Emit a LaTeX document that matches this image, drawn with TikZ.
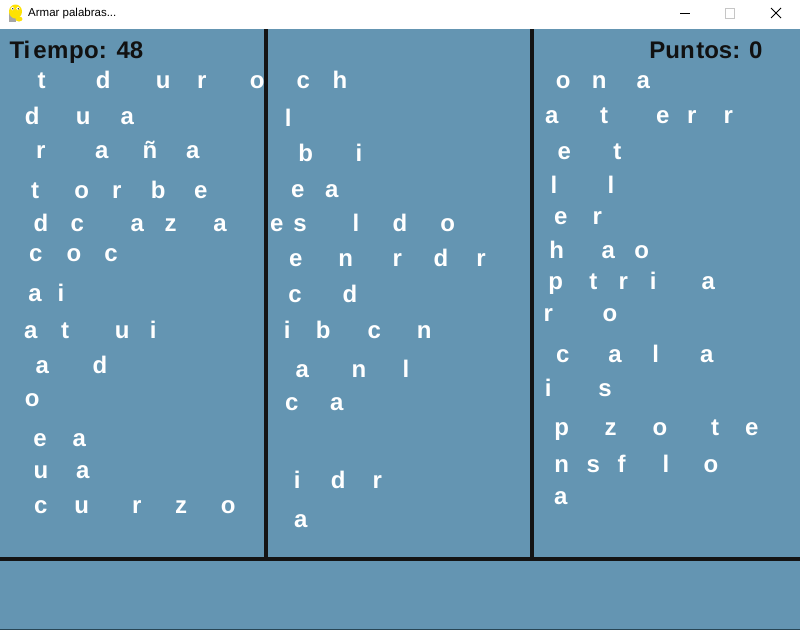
\documentclass[tikz,border=0pt]{standalone}
\usepackage{fontspec}
\setmainfont{Liberation Sans}
\definecolor{bg}{RGB}{100,149,178}
\definecolor{bar}{RGB}{20,20,20}
\definecolor{ink}{RGB}{17,17,17}
\definecolor{edge}{RGB}{40,70,85}
\tikzset{
  lt/.style={anchor=base,inner sep=0pt,text=white,font=\fontsize{24}{24}\selectfont\bfseries},
  scoretext/.style={inner sep=0pt,text=ink,font=\fontsize{24}{24}\selectfont\bfseries},
  divider/.style={draw=bar,line width=4pt},
  titletext/.style={anchor=west,inner sep=0pt,font=\fontsize{11.5}{12}\selectfont}
}
\begin{document}
\begin{tikzpicture}[x=1pt,y=-1pt]
\useasboundingbox (0,0) rectangle (800,630);
% window background
\fill[bg] (0,0) rectangle (800,630);
\fill[white] (0,0) rectangle (800,29);
% title bar icon
\fill[gray!70] (8.5,13) rectangle (16,21.5);
\fill[yellow!85!orange] (15.5,11.5) ellipse (6.5 and 7);
\fill[yellow!85!orange] (19,19) ellipse (3.5 and 2.5);
\fill[white] (12.5,8.5) circle (1.8);
\fill[white] (18,8.5) circle (1.8);
\fill[black] (12.8,8.8) circle (0.7);
\fill[black] (18.3,8.8) circle (0.7);
\node[titletext] (title) at (28,14) {Armar palabras...};
% window controls
\draw[black,line width=1pt] (680,13.5) -- (690,13.5);
\draw[gray!45,line width=1pt] (725.5,8.5) rectangle (734.5,18.5);
\draw[black,line width=0.9pt] (771,8) -- (781,18) (771,18) -- (781,8);
% score texts
\node[scoretext,anchor=base west] (tiempo) at (9.3,58.3) {Ti\kern3pt e\kern0.5pt m\kern0.5pt p\kern0.5pt o:\kern3pt\ 48};
\node[scoretext,anchor=base east] (puntos) at (762.7,58.3) {Pun\kern1.5pt tos: 0};
% letters
\foreach \x/\y/\t [count=\i] in {
41.7/88.3/t, 103.3/88.3/d, 163.3/88.3/u, 201.7/88.3/r, 257.3/88.3/o,
303.3/88.3/c, 340/88.3/h,
32.3/124/d, 83.3/124/u, 127.3/124/a,
40.7/158/r, 101.7/158/a, 150/158/ñ, 192.7/158/a,
35/198.3/t, 81.7/198.3/o, 116.7/198.3/r, 158.3/198.3/b, 200.7/198.3/e,
41/231.7/d, 77.3/231.7/c, 137.3/231.7/a, 170.7/231.7/z, 220/231.7/a, 276.7/231.7/e,
300/231.7/s, 356/231.7/l, 400/231.7/d, 447.7/231.7/o,
35.7/261.7/c, 74/261.7/o, 111/261.7/c,
35/301.7/a, 61/301.7/i,
30.7/338.3/a, 65/338.3/t, 122.3/338.3/u, 153.3/338.3/i,
42.3/373.3/a, 100/373.3/d,
32.3/406.7/o,
40/446.7/e, 79.3/446.7/a,
41/478.3/u, 82.7/478.3/a,
40.7/513.3/c, 81.7/513.3/u, 136.7/513.3/r, 181/513.3/z, 228.3/513.3/o,
288.3/126.7/l,
305.7/161/b, 359/161/i,
297.7/197.3/e, 331.7/197.3/a,
295.7/266.7/e, 345.7/266.7/n, 397.3/266.7/r, 441/266.7/d, 481/266.7/r,
295/302.3/c, 350/302.3/d,
287.3/338.3/i, 323.3/338.3/b, 374.3/338.3/c, 424.3/338.3/n,
302.3/377.7/a, 359/377.7/n, 406/377.7/l,
291.7/410.7/c, 336.7/410.7/a,
297.3/488.3/i, 338.3/488.3/d, 377.3/488.3/r,
300.7/527.3/a,
563.3/88.3/o, 599.3/88.3/n, 643.3/88.3/a,
551.7/123.3/a, 604/123.3/t, 662.7/123.3/e, 691.7/123.3/r, 728.3/123.3/r,
564.3/159/e, 617.3/159/t,
554/193.3/l, 611/193.3/l,
560.7/224.3/e, 597.3/224.3/r,
556.7/258.3/h, 608.3/258.3/a, 641.7/258.3/o,
555.7/289.3/p, 593.3/289.3/t, 623.3/289.3/r, 653.3/289.3/i, 708.3/289.3/a,
548.3/321.7/r, 610/321.7/o,
562.7/362.3/c, 615/362.3/a, 655.7/362.3/l, 706.7/362.3/a,
548.3/396.7/i, 605/396.7/s,
561.7/435/p, 610.7/435/z, 660/435/o, 715/435/t, 751.7/435/e,
561.7/472.7/n, 593.3/472.7/s, 621.7/472.7/f, 666/472.7/l, 711/472.7/o,
560.7/504/a}
  \node[lt] (L\i) at (\x,\y) {\t};
% dividers
\draw[divider] (265.5,29) -- (265.5,559);
\draw[divider] (532,29) -- (532,559);
\draw[divider] (0,559) -- (800,559);
% window bottom edge
\draw[edge,line width=1pt] (0,629.5) -- (800,629.5);
\end{tikzpicture}
\end{document}
